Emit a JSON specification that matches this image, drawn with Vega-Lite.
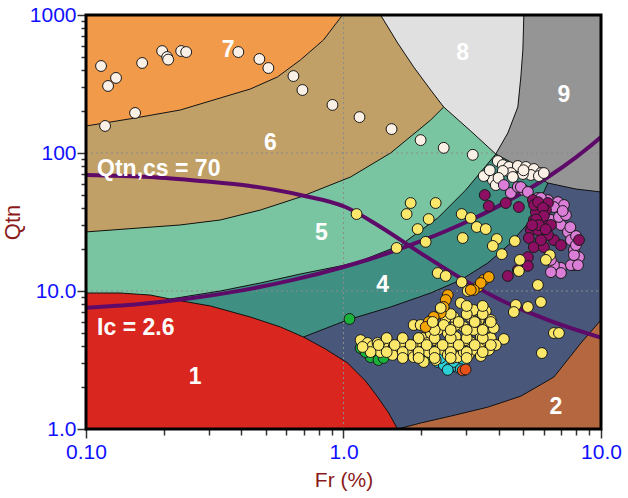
{
"$schema": "https://vega.github.io/schema/vega-lite/v6.json",
"width": 515, "height": 414,
"autosize": {"type": "none"},
"padding": {"left": 86, "top": 15, "right": 27, "bottom": 69},
"background": "white",
"config": {"view": {"stroke": null}},
"datasets": {
"z6": [{"fr":0.1,"q":156.9},{"fr":0.1551,"q":179.3},{"fr":0.2322,"q":204.9},{"fr":0.3322,"q":250.4},{"fr":0.4346,"q":290.9},{"fr":0.5536,"q":355.4},{"fr":0.6802,"q":472},{"fr":0.8359,"q":658.8},{"fr":0.991,"q":1000},{"fr":10,"q":1000}],
"z5": [{"fr":0.1,"q":26.8},{"fr":0.2322,"q":30.1},{"fr":0.3322,"q":32.7},{"fr":0.4753,"q":38.6},{"fr":0.6802,"q":48.0},{"fr":1.0646,"q":67.0},{"fr":1.5237,"q":100},{"fr":2.1807,"q":173.4},{"fr":2.4499,"q":215.4},{"fr":3.1198,"q":144.3},{"fr":3.9027,"q":98.3},{"fr":10,"q":98.3}],
"z4": [{"fr":0.2122,"q":8.75},{"fr":0.3322,"q":10.0},{"fr":0.4753,"q":11.43},{"fr":0.6802,"q":13.28},{"fr":0.9734,"q":15.18},{"fr":1.1644,"q":16.5},{"fr":1.6668,"q":21.5},{"fr":2.3222,"q":33.8},{"fr":2.9832,"q":53.9},{"fr":3.9027,"q":98.3},{"fr":10,"q":98.3}],
"z3": [{"fr":0.6988,"q":4.64},{"fr":1.0366,"q":6.17},{"fr":1.5237,"q":7.66},{"fr":2.1807,"q":9.67},{"fr":2.853,"q":12.02},{"fr":3.6334,"q":15.95},{"fr":4.4648,"q":22.3},{"fr":5.3419,"q":32.7},{"fr":6.2206,"q":60.6},{"fr":10,"q":60.6}],
"z1": [{"fr":0.1,"q":9.67},{"fr":0.1356,"q":9.67},{"fr":0.1774,"q":9.35},{"fr":0.2122,"q":8.75},{"fr":0.3039,"q":7.79},{"fr":0.4346,"q":6.48},{"fr":0.5687,"q":5.49},{"fr":0.6988,"q":4.64},{"fr":0.8511,"q":3.80},{"fr":1.0366,"q":3.01},{"fr":1.2178,"q":2.23},{"fr":1.3562,"q":1.71},{"fr":1.4965,"q":1.31},{"fr":1.6226,"q":1.0}],
"z2": [{"fr":1.6226,"q":1.0},{"fr":1.9934,"q":1.105},{"fr":2.6083,"q":1.24},{"fr":3.6334,"q":1.44},{"fr":4.8832,"q":1.73},{"fr":6.5637,"q":2.38},{"fr":8.36,"q":4.2},{"fr":10,"q":6.17}],
"z8": [{"fr":1.3932,"q":1000},{"fr":1.6226,"q":626.9},{"fr":1.8727,"q":420.1},{"fr":2.1807,"q":286.1},{"fr":2.4499,"q":215.4},{"fr":3.1198,"q":144.3},{"fr":3.9027,"q":98.3},{"fr":5.0166,"q":98.3}],
"z9": [{"fr":3.9027,"q":98.3,"q2":98.3},{"fr":4.3462,"q":88.3,"q2":139.6},{"fr":4.7534,"q":80.3,"q2":215.4},{"fr":4.8832,"q":77.9,"q2":355.4},{"fr":4.9716,"q":76.6,"q2":557},{"fr":5.0166,"q":75.3,"q2":1000},{"fr":6.2206,"q":60.6,"q2":1000},{"fr":7.993,"q":54.8,"q2":1000},{"fr":10,"q":52.2,"q2":1000}],
"bd": [
{"b":"76","fr":0.1,"q":156.9},{"b":"76","fr":0.1551,"q":179.3},{"b":"76","fr":0.2322,"q":204.9},{"b":"76","fr":0.3322,"q":250.4},{"b":"76","fr":0.4346,"q":290.9},{"b":"76","fr":0.5536,"q":355.4},{"b":"76","fr":0.6802,"q":472},{"b":"76","fr":0.8359,"q":658.8},{"b":"76","fr":0.991,"q":1000},
{"b":"68","fr":1.3932,"q":1000},{"b":"68","fr":1.6226,"q":626.9},{"b":"68","fr":1.8727,"q":420.1},{"b":"68","fr":2.1807,"q":286.1},{"b":"68","fr":2.4499,"q":215.4},
{"b":"65","fr":0.1,"q":26.8},{"b":"65","fr":0.2322,"q":30.1},{"b":"65","fr":0.3322,"q":32.7},{"b":"65","fr":0.4753,"q":38.6},{"b":"65","fr":0.6802,"q":48.0},{"b":"65","fr":1.0646,"q":67.0},{"b":"65","fr":1.5237,"q":100},{"b":"65","fr":2.1807,"q":173.4},{"b":"65","fr":2.4499,"q":215.4},
{"b":"85","fr":2.4499,"q":215.4},{"b":"85","fr":3.1198,"q":144.3},{"b":"85","fr":3.9027,"q":98.3},
{"b":"89","fr":3.9027,"q":98.3},{"b":"89","fr":4.3462,"q":139.6},{"b":"89","fr":4.7534,"q":215.4},{"b":"89","fr":4.8832,"q":355.4},{"b":"89","fr":4.9716,"q":557},{"b":"89","fr":5.0166,"q":1000},
{"b":"9l","fr":3.9027,"q":98.3},{"b":"9l","fr":4.3462,"q":88.3},{"b":"9l","fr":4.7534,"q":80.3},{"b":"9l","fr":4.8832,"q":77.9},{"b":"9l","fr":5.0166,"q":75.3},{"b":"9l","fr":6.2206,"q":60.6},{"b":"9l","fr":7.993,"q":54.8},{"b":"9l","fr":10,"q":52.2},
{"b":"54","fr":0.2122,"q":8.75},{"b":"54","fr":0.3322,"q":10.0},{"b":"54","fr":0.4753,"q":11.43},{"b":"54","fr":0.6802,"q":13.28},{"b":"54","fr":0.9734,"q":15.18},{"b":"54","fr":1.1644,"q":16.5},{"b":"54","fr":1.6668,"q":21.5},{"b":"54","fr":2.3222,"q":33.8},{"b":"54","fr":2.9832,"q":53.9},{"b":"54","fr":3.9027,"q":98.3},
{"b":"1","fr":0.1,"q":9.67},{"b":"1","fr":0.1356,"q":9.67},{"b":"1","fr":0.1774,"q":9.35},{"b":"1","fr":0.2122,"q":8.75},{"b":"1","fr":0.3039,"q":7.79},{"b":"1","fr":0.4346,"q":6.48},{"b":"1","fr":0.5687,"q":5.49},{"b":"1","fr":0.6988,"q":4.64},{"b":"1","fr":0.8511,"q":3.80},{"b":"1","fr":1.0366,"q":3.01},{"b":"1","fr":1.2178,"q":2.23},{"b":"1","fr":1.3562,"q":1.71},{"b":"1","fr":1.4965,"q":1.31},{"b":"1","fr":1.6226,"q":1.0},
{"b":"43","fr":0.6988,"q":4.64},{"b":"43","fr":1.0366,"q":6.17},{"b":"43","fr":1.5237,"q":7.66},{"b":"43","fr":2.1807,"q":9.67},{"b":"43","fr":2.853,"q":12.02},{"b":"43","fr":3.6334,"q":15.95},{"b":"43","fr":4.4648,"q":22.3},{"b":"43","fr":5.3419,"q":32.7},{"b":"43","fr":6.2206,"q":60.6},
{"b":"32","fr":1.6226,"q":1.0},{"b":"32","fr":1.9934,"q":1.105},{"b":"32","fr":2.6083,"q":1.24},{"b":"32","fr":3.6334,"q":1.44},{"b":"32","fr":4.8832,"q":1.73},{"b":"32","fr":6.5637,"q":2.38},{"b":"32","fr":8.36,"q":4.2},{"b":"32","fr":10,"q":6.17}
],
"grid": [{"g":"v","fr":1,"q":1},{"g":"v","fr":1,"q":1000},{"g":"h10","fr":0.1,"q":10},{"g":"h10","fr":10,"q":10},{"g":"h100","fr":0.1,"q":100},{"g":"h100","fr":10,"q":100}],
"curves": [
{"c":"ic","fr":0.1,"q":7.57},{"c":"ic","fr":0.1585,"q":8.02},{"c":"ic","fr":0.2512,"q":8.81},{"c":"ic","fr":0.3981,"q":10.06},{"c":"ic","fr":0.631,"q":11.98},{"c":"ic","fr":1,"q":14.93},{"c":"ic","fr":1.259,"q":16.98},{"c":"ic","fr":1.585,"q":19.59},{"c":"ic","fr":1.995,"q":22.94},{"c":"ic","fr":2.512,"q":27.32},{"c":"ic","fr":3.162,"q":33.13},{"c":"ic","fr":3.981,"q":41.05},{"c":"ic","fr":5.012,"q":52.1},{"c":"ic","fr":6.31,"q":68.1},{"c":"ic","fr":7.943,"q":92.2},{"c":"ic","fr":8.913,"q":109.1},{"c":"ic","fr":10,"q":130.8},
{"c":"qcs","fr":0.1,"q":69.3},{"c":"qcs","fr":0.1774,"q":67.0},{"c":"qcs","fr":0.2778,"q":62.7},{"c":"qcs","fr":0.4346,"q":57.6},{"c":"qcs","fr":0.680,"q":49.6},{"c":"qcs","fr":1.018,"q":40.6},{"c":"qcs","fr":1.393,"q":29.1},{"c":"qcs","fr":1.994,"q":18.8},{"c":"qcs","fr":2.853,"q":12.4},{"c":"qcs","fr":4.08,"q":8.6},{"c":"qcs","fr":6.39,"q":6.06},{"c":"qcs","fr":10,"q":4.6}
],
"pts": [
{"t":"white","fr":0.1144,"q":427},{"t":"white","fr":0.1218,"q":306},{"t":"white","fr":0.1308,"q":350},{"t":"white","fr":0.1186,"q":157},{"t":"white","fr":0.1551,"q":195},{"t":"white","fr":0.1652,"q":449},{"t":"white","fr":0.1976,"q":548},{"t":"white","fr":0.2066,"q":496},{"t":"white","fr":0.2085,"q":475},{"t":"white","fr":0.2342,"q":548},{"t":"white","fr":0.245,"q":539},{"t":"white","fr":0.3904,"q":539},{"t":"white","fr":0.4713,"q":480},{"t":"white","fr":0.5108,"q":413},{"t":"white","fr":0.639,"q":361},{"t":"white","fr":0.6927,"q":286},{"t":"white","fr":0.9062,"q":223},{"t":"white","fr":1.154,"q":182},{"t":"white","fr":1.537,"q":149},{"t":"white","fr":1.993,"q":124},{"t":"white","fr":2.45,"q":109},{"t":"white","fr":3.177,"q":97},
{"t":"white","fr":3.975,"q":87.5},{"t":"white","fr":4.157,"q":81.8},{"t":"white","fr":4.386,"q":79.2},{"t":"white","fr":4.753,"q":80.5},{"t":"white","fr":5.108,"q":79.2},{"t":"white","fr":5.486,"q":76.6},{"t":"white","fr":5.842,"q":71.6},{"t":"white","fr":5.342,"q":69.3},{"t":"white","fr":4.972,"q":70.4},{"t":"white","fr":4.465,"q":71.6},{"t":"white","fr":4.157,"q":74.1},{"t":"white","fr":3.801,"q":63.7},{"t":"white","fr":3.504,"q":68.1},{"t":"white","fr":3.903,"q":58.6},{"t":"white","fr":4.546,"q":67.0},{"t":"white","fr":5.739,"q":68.1},{"t":"white","fr":6.0,"q":71.6},{"t":"white","fr":3.7,"q":75},{"t":"white","fr":4.0,"q":66},{"t":"white","fr":5.0,"q":75},
{"t":"pink","fr":4.194,"q":58.6},{"t":"pink","fr":4.465,"q":51.3},{"t":"pink","fr":4.753,"q":56.7},{"t":"pink","fr":5.017,"q":53.9},{"t":"pink","fr":5.687,"q":47.2},{"t":"pink","fr":6.221,"q":45.6},{"t":"pink","fr":6.802,"q":44.1},{"t":"pink","fr":7.178,"q":42.0},{"t":"pink","fr":5.687,"q":36.7},{"t":"pink","fr":5.947,"q":32.7},{"t":"pink","fr":6.391,"q":32.7},{"t":"pink","fr":6.988,"q":30.1},{"t":"pink","fr":7.44,"q":26.8},{"t":"pink","fr":7.643,"q":23.4},{"t":"pink","fr":7.852,"q":19.8},{"t":"pink","fr":8.212,"q":17.6},{"t":"pink","fr":7.852,"q":15.4},{"t":"pink","fr":6.988,"q":14.7},{"t":"pink","fr":6.563,"q":15.4},{"t":"pink","fr":7.643,"q":15.4},{"t":"pink","fr":6.391,"q":16.8},{"t":"pink","fr":6.988,"q":13.5},{"t":"pink","fr":6.391,"q":13.7},{"t":"pink","fr":7.852,"q":18.2},{"t":"pink","fr":6.865,"q":34.4},{"t":"pink","fr":6.563,"q":40.6},{"t":"pink","fr":4.883,"q":56.7},{"t":"pink","fr":5.2,"q":52.2},{"t":"pink","fr":5.842,"q":47.2},{"t":"pink","fr":8.139,"q":15.4},{"t":"pink","fr":7.307,"q":35.5},{"t":"pink","fr":7.993,"q":21.5},{"t":"pink","fr":6.109,"q":25.5},{"t":"pink","fr":7.1,"q":38},{"t":"pink","fr":7.6,"q":29},{"t":"pink","fr":8.0,"q":25},
{"t":"magenta","fr":3.537,"q":49.6},{"t":"magenta","fr":3.666,"q":41.3},{"t":"magenta","fr":4.27,"q":43.4},{"t":"magenta","fr":4.797,"q":40.6},{"t":"magenta","fr":5.442,"q":45.6},{"t":"magenta","fr":5.687,"q":40.6},{"t":"magenta","fr":5.842,"q":35.5},{"t":"magenta","fr":5.947,"q":31.1},{"t":"magenta","fr":5.842,"q":27.7},{"t":"magenta","fr":5.342,"q":27.7},{"t":"magenta","fr":5.246,"q":24.2},{"t":"magenta","fr":5.486,"q":20.8},{"t":"magenta","fr":6.0,"q":20.8},{"t":"magenta","fr":6.563,"q":23.4},{"t":"magenta","fr":6.988,"q":21.5},{"t":"magenta","fr":8.212,"q":23.4},{"t":"magenta","fr":5.2,"q":17.6},{"t":"magenta","fr":5.2,"q":15.2},{"t":"magenta","fr":4.753,"q":14.2},{"t":"magenta","fr":4.346,"q":12.85},{"t":"magenta","fr":6.221,"q":25.5},{"t":"magenta","fr":5.842,"q":23.4},{"t":"magenta","fr":5.486,"q":32.7},{"t":"magenta","fr":6.221,"q":43.4},{"t":"magenta","fr":5.687,"q":27.7},{"t":"magenta","fr":5.586,"q":37.4},{"t":"magenta","fr":6.109,"q":38.6},{"t":"magenta","fr":6.391,"q":30.1},{"t":"magenta","fr":5.5,"q":42},{"t":"magenta","fr":5.7,"q":44},{"t":"magenta","fr":5.95,"q":40},{"t":"magenta","fr":6.0,"q":35},{"t":"magenta","fr":5.6,"q":33},{"t":"magenta","fr":5.75,"q":30},{"t":"magenta","fr":6.1,"q":28},{"t":"magenta","fr":5.4,"q":30},
{"t":"cyan","fr":2.322,"q":3.06},{"t":"cyan","fr":2.45,"q":2.91},{"t":"cyan","fr":2.608,"q":2.81},{"t":"cyan","fr":2.777,"q":2.81},{"t":"cyan","fr":2.93,"q":2.91},{"t":"cyan","fr":2.385,"q":3.27},{"t":"cyan","fr":2.679,"q":3.06},{"t":"cyan","fr":2.54,"q":2.68},{"t":"cyan","fr":2.853,"q":2.72},
{"t":"red","fr":2.904,"q":2.66},{"t":"red","fr":2.98,"q":2.70},
{"t":"green","fr":1.055,"q":6.27},{"t":"green","fr":1.165,"q":3.86},{"t":"green","fr":1.274,"q":3.32},{"t":"green","fr":1.368,"q":3.16},{"t":"green","fr":1.431,"q":3.27},{"t":"green","fr":2.122,"q":3.32},{"t":"green","fr":1.218,"q":3.61},
{"t":"yellow","fr":1.124,"q":36.1},{"t":"yellow","fr":1.823,"q":43.4},{"t":"yellow","fr":2.28,"q":43.4},{"t":"yellow","fr":1.758,"q":36.1},{"t":"yellow","fr":2.878,"q":36.1},{"t":"yellow","fr":3.12,"q":33.8},{"t":"yellow","fr":2.142,"q":33.2},{"t":"yellow","fr":1.941,"q":28.1},{"t":"yellow","fr":3.292,"q":29.1},{"t":"yellow","fr":3.569,"q":28.1},{"t":"yellow","fr":2.085,"q":22.7},{"t":"yellow","fr":2.904,"q":24.2},{"t":"yellow","fr":1.608,"q":20.5},{"t":"yellow","fr":3.939,"q":23.8},{"t":"yellow","fr":3.801,"q":21.2},{"t":"yellow","fr":4.628,"q":23.0},{"t":"yellow","fr":4.119,"q":18.5},{"t":"yellow","fr":4.84,"q":16.8},{"t":"yellow","fr":4.797,"q":13.96},{"t":"yellow","fr":6.333,"q":18.2},{"t":"yellow","fr":6.109,"q":16.8},{"t":"yellow","fr":2.322,"q":13.5},{"t":"yellow","fr":2.494,"q":12.85},{"t":"yellow","fr":2.878,"q":11.6},{"t":"yellow","fr":3.038,"q":10.0},{"t":"yellow","fr":5.687,"q":11.05},{"t":"yellow","fr":5.842,"q":8.32},{"t":"yellow","fr":4.67,"q":7.92},{"t":"yellow","fr":4.587,"q":7.04},{"t":"yellow","fr":5.2,"q":7.66},{"t":"yellow","fr":6.563,"q":4.96},{"t":"yellow","fr":6.865,"q":4.96},{"t":"yellow","fr":4.194,"q":4.49},{"t":"yellow","fr":5.894,"q":3.55},{"t":"yellow","fr":1.873,"q":5.67},
{"t":"yellow","fr":1.165,"q":4.41},{"t":"yellow","fr":1.24,"q":4.2},{"t":"yellow","fr":1.297,"q":3.99},{"t":"yellow","fr":1.356,"q":4.2},{"t":"yellow","fr":1.431,"q":4.06},{"t":"yellow","fr":1.496,"q":3.86},{"t":"yellow","fr":1.565,"q":3.93},{"t":"yellow","fr":1.637,"q":3.74},{"t":"yellow","fr":1.712,"q":3.55},{"t":"yellow","fr":1.774,"q":3.93},{"t":"yellow","fr":1.823,"q":3.74},{"t":"yellow","fr":1.873,"q":3.32},{"t":"yellow","fr":1.941,"q":4.27},{"t":"yellow","fr":2.029,"q":4.56},{"t":"yellow","fr":2.048,"q":3.06},{"t":"yellow","fr":1.958,"q":3.44},{"t":"yellow","fr":2.142,"q":3.61},{"t":"yellow","fr":2.24,"q":4.41},{"t":"yellow","fr":2.122,"q":4.2},{"t":"yellow","fr":2.385,"q":3.93},{"t":"yellow","fr":2.45,"q":3.74},{"t":"yellow","fr":2.54,"q":3.44},{"t":"yellow","fr":2.655,"q":3.27},{"t":"yellow","fr":2.777,"q":3.32},{"t":"yellow","fr":2.853,"q":3.93},{"t":"yellow","fr":2.93,"q":3.61},{"t":"yellow","fr":3.12,"q":4.27},{"t":"yellow","fr":3.064,"q":3.44},{"t":"yellow","fr":3.263,"q":3.74},{"t":"yellow","fr":3.413,"q":4.06},{"t":"yellow","fr":3.569,"q":4.41},{"t":"yellow","fr":3.733,"q":4.56},{"t":"yellow","fr":3.633,"q":5.49},{"t":"yellow","fr":3.413,"q":4.64},{"t":"yellow","fr":3.205,"q":5.22},{"t":"yellow","fr":2.93,"q":5.49},{"t":"yellow","fr":2.728,"q":5.67},{"t":"yellow","fr":2.54,"q":4.96},{"t":"yellow","fr":2.322,"q":5.22},{"t":"yellow","fr":2.679,"q":6.48},{"t":"yellow","fr":3.12,"q":6.48},{"t":"yellow","fr":2.853,"q":8.19},{"t":"yellow","fr":3.205,"q":7.28},{"t":"yellow","fr":3.569,"q":7.16},{"t":"yellow","fr":3.352,"q":6.17},{"t":"yellow","fr":3.834,"q":5.39},{"t":"yellow","fr":3.903,"q":4.06},{"t":"yellow","fr":2.494,"q":6.37},{"t":"yellow","fr":1.993,"q":5.67},{"t":"yellow","fr":1.393,"q":3.61},{"t":"yellow","fr":1.274,"q":3.61},{"t":"yellow","fr":1.186,"q":3.93},{"t":"yellow","fr":1.551,"q":3.44},{"t":"yellow","fr":1.667,"q":4.2},{"t":"yellow","fr":2.28,"q":3.16},{"t":"yellow","fr":2.608,"q":4.06},{"t":"yellow","fr":2.983,"q":4.41},{"t":"yellow","fr":3.413,"q":3.38},{"t":"yellow","fr":3.666,"q":3.74},{"t":"yellow","fr":2.728,"q":4.64},{"t":"yellow","fr":3.263,"q":5.96},{"t":"yellow","fr":3.733,"q":6.17},{"t":"yellow","fr":2.45,"q":5.67},{"t":"yellow","fr":2.181,"q":4.96},{"t":"yellow","fr":1.855,"q":4.06},
{"t":"yellow","fr":1.471,"q":4.56},{"t":"yellow","fr":1.698,"q":4.56},{"t":"yellow","fr":1.958,"q":4.56},{"t":"yellow","fr":2.259,"q":4.56},{"t":"yellow","fr":2.608,"q":4.56},{"t":"yellow","fr":3.009,"q":4.56},{"t":"yellow","fr":3.472,"q":4.56},
{"t":"yellow","fr":1.368,"q":4.06},{"t":"yellow","fr":1.58,"q":4.06},{"t":"yellow","fr":1.823,"q":4.06},{"t":"yellow","fr":2.103,"q":4.06},{"t":"yellow","fr":2.426,"q":4.06},{"t":"yellow","fr":2.801,"q":4.06},{"t":"yellow","fr":3.232,"q":4.06},{"t":"yellow","fr":3.733,"q":4.06},
{"t":"yellow","fr":1.471,"q":3.61},{"t":"yellow","fr":1.698,"q":3.61},{"t":"yellow","fr":1.958,"q":3.61},{"t":"yellow","fr":2.259,"q":3.61},{"t":"yellow","fr":2.608,"q":3.61},{"t":"yellow","fr":3.009,"q":3.61},{"t":"yellow","fr":3.472,"q":3.61},
{"t":"yellow","fr":1.698,"q":3.27},{"t":"yellow","fr":1.958,"q":3.27},{"t":"yellow","fr":2.259,"q":3.27},{"t":"yellow","fr":2.608,"q":3.27},{"t":"yellow","fr":3.009,"q":3.27},
{"t":"yellow","fr":2.259,"q":5.22},{"t":"yellow","fr":2.608,"q":5.22},{"t":"yellow","fr":3.009,"q":5.22},{"t":"yellow","fr":3.472,"q":5.22},
{"t":"yellow","fr":2.801,"q":5.96},{"t":"yellow","fr":3.232,"q":5.96},{"t":"yellow","fr":3.733,"q":5.96},
{"t":"yellow","fr":2.608,"q":6.81},{"t":"yellow","fr":3.009,"q":6.81},{"t":"yellow","fr":3.472,"q":6.81},
{"t":"yellow","fr":3.009,"q":7.79},{"t":"yellow","fr":3.472,"q":7.79},
{"t":"orange","fr":3.322,"q":10.69},{"t":"orange","fr":3.504,"q":12.02},{"t":"orange","fr":3.666,"q":12.63},{"t":"orange","fr":3.413,"q":11.43},{"t":"orange","fr":3.205,"q":10.17},{"t":"orange","fr":2.54,"q":9.35},{"t":"orange","fr":2.494,"q":8.61},{"t":"orange","fr":2.45,"q":7.66},{"t":"orange","fr":2.385,"q":6.93},{"t":"orange","fr":2.24,"q":6.48},{"t":"orange","fr":2.142,"q":5.96},{"t":"orange","fr":2.085,"q":5.49},{"t":"orange","fr":3.12,"q":10.17},
{"t":"yellow","fr":2.385,"q":7.53},{"t":"yellow","fr":2.22,"q":5.96}
],
"zl": [{"l":"7","fr":0.3568,"q":557},{"l":"6","fr":0.52,"q":118},{"l":"5","fr":0.821,"q":26.3},{"l":"4","fr":1.418,"q":11.05},{"l":"8","fr":2.904,"q":530},{"l":"9","fr":7.178,"q":263},{"l":"1","fr":0.2655,"q":2.38},{"l":"2","fr":6.681,"q":1.44}],
"ll": [{"l":"Qtn,cs = 70","fr":0.1104,"q":76.6},{"l":"Ic = 2.6","fr":0.1104,"q":5.39}],
"frame": [{"fr":0.1,"q":1,"fr2":10,"q2":1000}]
},
"encoding": {
"x": {"field":"fr","type":"quantitative","title":"Fr (%)",
 "scale":{"type":"log","domain":[0.1,10],"nice":false},
 "axis":{"values":[0.1,0.2,0.3,0.4,0.5,0.6,0.7,0.8,0.9,1,2,3,4,5,6,7,8,9,10],
  "labelExpr":"datum.value==0.1?'0.10':datum.value==1?'1.0':datum.value==10?'10.0':''",
  "grid":false,"domain":false,"tickColor":"#333333","tickWidth":1.5,
  "tickSize":{"condition":{"test":"datum.value==0.1||datum.value==1||datum.value==10","value":9},"value":6},
  "labelColor":"#1010ff","labelFont":"Liberation Sans","labelFontSize":21,"labelPadding":3,
  "labelOverlap":false,"labelBound":false,"labelFlush":false,
  "titleColor":"#8b1a1a","titleFont":"Liberation Sans","titleFontSize":21,"titleFontWeight":"normal","titlePadding":7}},
"y": {"field":"q","type":"quantitative","title":"Qtn",
 "scale":{"type":"log","domain":[1,1000],"nice":false},
 "axis":{"values":[1,2,3,4,5,6,7,8,9,10,20,30,40,50,60,70,80,90,100,200,300,400,500,600,700,800,900,1000],
  "labelExpr":"datum.value==1?'1.0':datum.value==10?'10.0':datum.value==100?'100':datum.value==1000?'1000':''",
  "grid":false,"domain":false,"tickColor":"#333333","tickWidth":1.5,
  "tickSize":{"condition":{"test":"datum.value==1||datum.value==10||datum.value==100||datum.value==1000","value":9},"value":5},
  "labelColor":"#1010ff","labelFont":"Liberation Sans","labelFontSize":21,"labelPadding":1,
  "labelOverlap":false,"labelBound":false,"labelFlush":false,
  "titleColor":"#8b1a1a","titleFont":"Liberation Sans","titleFontSize":22,"titleFontWeight":"normal","titlePadding":5}}
},
"layer": [
{"data":{"name":"z6"},"mark":{"type":"area","color":"#c0a066"},"encoding":{"y2":{"datum":1}}},
{"data":{"name":"z6"},"mark":{"type":"area","color":"#f09a4a"},"encoding":{"y2":{"datum":1000}}},
{"data":{"name":"z5"},"mark":{"type":"area","color":"#7ac5a1"},"encoding":{"y2":{"datum":1}}},
{"data":{"name":"z4"},"mark":{"type":"area","color":"#3f8f82"},"encoding":{"y2":{"datum":1}}},
{"data":{"name":"z3"},"mark":{"type":"area","color":"#49587a"},"encoding":{"y2":{"datum":1}}},
{"data":{"name":"z1"},"mark":{"type":"area","color":"#d9261e"},"encoding":{"y2":{"datum":1}}},
{"data":{"name":"z2"},"mark":{"type":"area","color":"#b5683f"},"encoding":{"y2":{"datum":1}}},
{"data":{"name":"z8"},"mark":{"type":"area","color":"#e0e0e0"},"encoding":{"y2":{"datum":1000}}},
{"data":{"name":"z9"},"mark":{"type":"area","color":"#959595"},"encoding":{"y2":{"field":"q2"}}},
{"data":{"name":"grid"},"mark":{"type":"line","color":"#8a8a8a","strokeWidth":1,"strokeDash":[2,3]},"encoding":{"detail":{"field":"g"}}},
{"data":{"name":"bd"},"mark":{"type":"line","color":"#111111","strokeWidth":1},"encoding":{"detail":{"field":"b"}}},
{"data":{"name":"curves"},"mark":{"type":"line","color":"#5e0a69","strokeWidth":4,"interpolate":"monotone"},"encoding":{"detail":{"field":"c"}}},
{"data":{"name":"pts"},"mark":{"type":"point","filled":true,"size":118,"stroke":"#1a1a1a","strokeWidth":1,"opacity":1},
 "encoding":{"fill":{"field":"t","type":"nominal","legend":null,
  "scale":{"domain":["white","pink","magenta","cyan","red","green","orange","yellow"],"range":["#faf0e6","#da7ed8","#8c0f63","#2ccfd6","#e8501a","#19b33c","#f5a300","#fbe86a"]}}}},
{"data":{"name":"zl"},"mark":{"type":"text","color":"white","font":"Liberation Sans","fontWeight":"bold","fontSize":23,"align":"center","baseline":"middle"},"encoding":{"text":{"field":"l"}}},
{"data":{"name":"ll"},"mark":{"type":"text","color":"white","font":"Liberation Sans","fontWeight":"bold","fontSize":23,"align":"left","baseline":"middle"},"encoding":{"text":{"field":"l"}}},
{"data":{"name":"frame"},"mark":{"type":"rect","fill":null,"stroke":"black","strokeWidth":3},"encoding":{"x2":{"field":"fr2"},"y2":{"field":"q2"}}}
]
}
